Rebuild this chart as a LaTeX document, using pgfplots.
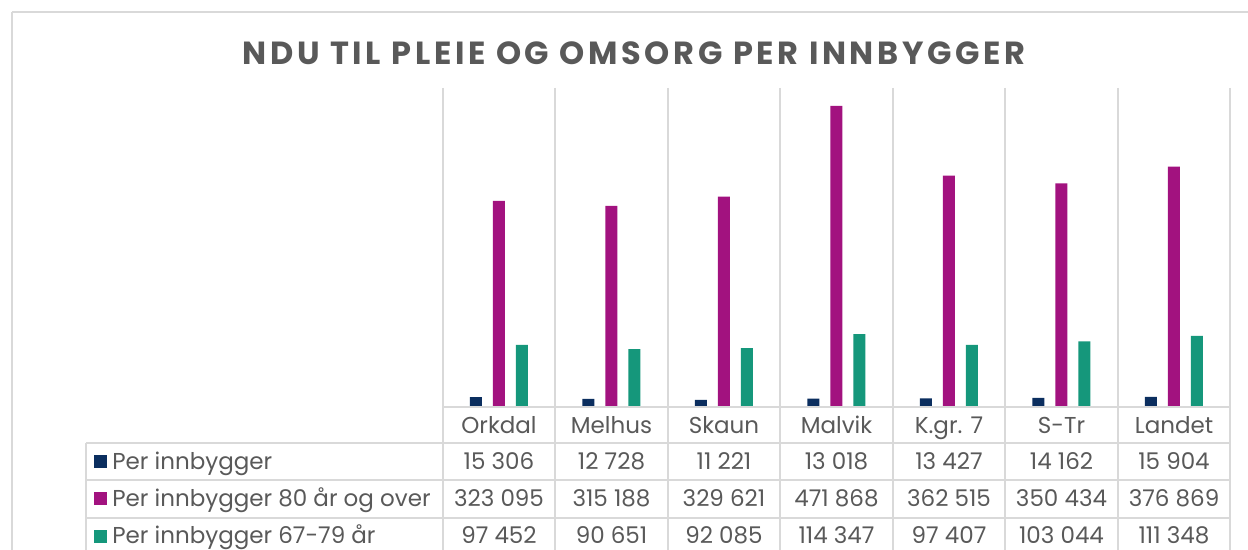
\documentclass[border=0pt]{standalone}
\usepackage{pgfplots}
\pgfplotsset{compat=1.18}
\usepackage{fontspec}
\setmainfont{Poppins}
\definecolor{navy}{HTML}{0B2E5F}
\definecolor{mag}{HTML}{A2127F}
\definecolor{tealc}{HTML}{15977B}
\definecolor{txt}{HTML}{595959}
\definecolor{gridc}{HTML}{D9D9D9}
\begin{document}
\begin{tikzpicture}[x=0.5pt,y=-0.5pt]
\path[use as bounding box] (0,0) rectangle (1248,550);
\begin{axis}[
  at={(221.25pt,-203.5pt)}, anchor=south west,
  scale only axis, width=393.75pt, height=159.5pt,
  xmin=-0.5, xmax=6.5, ymin=0, ymax=500000,
  hide axis, clip=false,
]
\addplot[ybar, bar width=6pt, bar shift=-11.5pt, fill=navy, draw=none] coordinates {(0,15306) (1,12728) (2,11221) (3,13018) (4,13427) (5,14162) (6,15904)};
\addplot[ybar, bar width=6pt, bar shift=0pt, fill=mag, draw=none] coordinates {(0,323095) (1,315188) (2,329621) (3,471868) (4,362515) (5,350434) (6,376869)};
\addplot[ybar, bar width=6pt, bar shift=11.5pt, fill=tealc, draw=none] coordinates {(0,97452) (1,90651) (2,92085) (3,114347) (4,97407) (5,103044) (6,111348)};
\end{axis}
\begin{scope}[gridc, line width=1pt]
\draw (12,12) -- (1248,12);
\draw (12,12) -- (12,550);
\foreach \i in {0,...,7} \draw (442.5+\i*112.5,88) -- (442.5+\i*112.5,550);
\draw (442.5,407) -- (1230,407);
\draw (86,443) -- (1230,443);
\draw (86,480.5) -- (1230,480.5);
\draw (86,518) -- (1230,518);
\draw (86,443) -- (86,550);
\end{scope}
\node[txt, anchor=base, font=\fontsize{16}{18}\selectfont\bfseries\addfontfeature{LetterSpace=11.5}] at (634,65) {NDU TIL PLEIE OG OMSORG PER INNBYGGER};
\begin{scope}[every node/.style={txt, anchor=base, font=\fontsize{11.5}{13}\selectfont}]
\foreach \n [count=\i from 0] in {Orkdal,Melhus,Skaun,Malvik,K.gr. 7,S-Tr,Landet} \node at (499+\i*112.5,434) {\n};
\foreach \n [count=\i from 0] in {15 306,12 728,11 221,13 018,13 427,14 162,15 904} \node at (499+\i*112.5,469.5) {\n};
\foreach \n [count=\i from 0] in {323 095,315 188,329 621,471 868,362 515,350 434,376 869} \node at (499+\i*112.5,507) {\n};
\foreach \n [count=\i from 0] in {97 452,90 651,92 085,114 347,97 407,103 044,111 348} \node at (499+\i*112.5,544) {\n};
\begin{scope}[every node/.append style={inner sep=0pt}]
\node[anchor=base west] at (112,469.5) {Per innbygger};
\node[anchor=base west] at (112,507) {Per innbygger 80 år og over};
\node[anchor=base west] at (112,544) {Per innbygger 67-79 år};
\end{scope}
\end{scope}
\fill[navy] (94,455) rectangle (107,468);
\fill[mag] (94,492.5) rectangle (107,505.5);
\fill[tealc] (94,530) rectangle (107,543);
\end{tikzpicture}
\end{document}
